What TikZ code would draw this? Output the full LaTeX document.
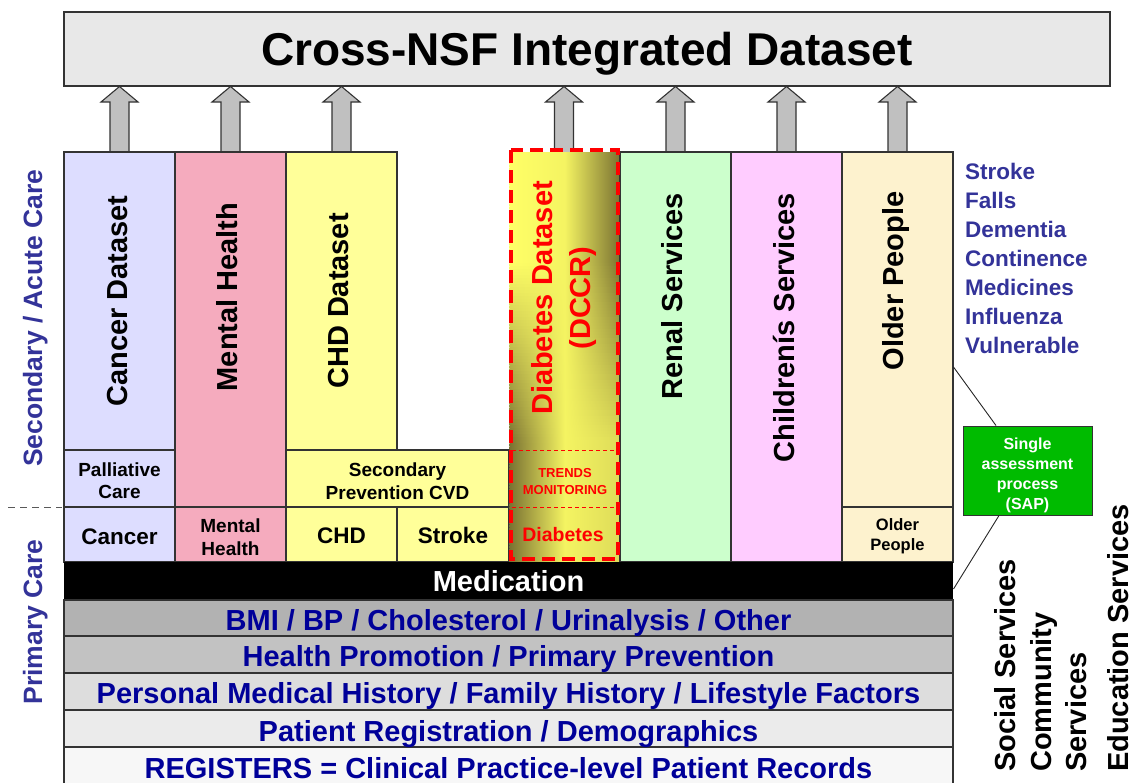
\documentclass[tikz,border=0pt]{standalone}
\usepackage{fontspec}
\setmainfont{Liberation Sans}
\definecolor{topbg}{HTML}{E8E8E8}
\definecolor{bordc}{HTML}{333333}
\definecolor{arrg}{HTML}{C0C0C0}
\definecolor{cancerc}{HTML}{DDDDFF}
\definecolor{mentalc}{HTML}{F5ABBE}
\definecolor{chdc}{HTML}{FFFF99}
\definecolor{renalc}{HTML}{CCFFCC}
\definecolor{childc}{HTML}{FFCCFF}
\definecolor{olderc}{HTML}{FDF2CE}
\definecolor{sapc}{HTML}{00BB00}
\definecolor{rowa}{HTML}{B2B2B2}
\definecolor{rowb}{HTML}{C2C2C2}
\definecolor{rowc}{HTML}{DDDDDD}
\definecolor{rowd}{HTML}{EBEBEB}
\definecolor{rowe}{HTML}{F7F7F7}
\definecolor{navyt}{HTML}{000099}
\definecolor{purpt}{HTML}{333399}
\definecolor{dY}{HTML}{FFFF66}
\definecolor{dO}{HTML}{7A7232}
\definecolor{redc}{HTML}{FF0000}
\begin{document}
\begin{tikzpicture}[x=1pt,y=-1pt,
  bx/.style={draw=bordc,line width=1.1pt},
  tx/.style={inner sep=0pt,font=\bfseries\fontsize{#1}{#1}\selectfont},
  arrs/.style={draw=bordc,fill=arrg,line width=1.1pt,line join=miter},
  conn/.style={draw=black!85,line width=0.9pt}]
\useasboundingbox (0,0) rectangle (1132,782);
% top dataset box
\draw[bx,fill=topbg] (64,12) rectangle (1110,86);
\node[tx=46,anchor=base] (title) at (587,65) {Cross-NSF Integrated Dataset};
% block arrows
\foreach \c in {119.5,230.5,341.5,564,675.5,786.5,897.5}{
  \draw[arrs] ({\c-9.5},154) -- ({\c-9.5},102) -- ({\c-18.5},102) -- (\c,86.5) -- ({\c+18.5},102) -- ({\c+9.5},102) -- ({\c+9.5},154);
}
% columns
\draw[bx,fill=cancerc] (64,152) rectangle (175,450);
\draw[bx,fill=cancerc] (64,450) rectangle (175,507);
\draw[bx,fill=cancerc] (64,507) rectangle (175,562);
\draw[bx,fill=mentalc] (175,152) rectangle (286,507);
\draw[bx,fill=mentalc] (175,507) rectangle (286,562);
\draw[bx,fill=chdc] (286,152) rectangle (397,450);
\draw[bx,fill=chdc] (286,450) rectangle (509,507);
\draw[bx,fill=chdc] (286,507) rectangle (397,562);
\draw[bx,fill=chdc] (397,507) rectangle (509,562);
% diabetes gradient column
\foreach \i in {0,...,136}{
  \pgfmathsetmacro{\yy}{152+3*\i}
  \pgfmathtruncatemacro{\ta}{min(100,max(0,(\yy-260)/1.8))}
  \pgfmathtruncatemacro{\tb}{100-0.75*\ta}
  \fill[left color=dO!\ta!dY, right color=dO!\tb!dY, middle color=dY!92!dO] (509.5,\yy) rectangle (620,\yy+3.8);
}
\draw[bx,fill=renalc] (620,152) rectangle (731,562);
\draw[bx,fill=childc] (731,152) rectangle (842,562);
\draw[bx,fill=olderc] (842,152) rectangle (953,507);
\draw[bx,fill=olderc] (842,507) rectangle (953,562);
% red dashed frame
\draw[redc,line width=1pt,dash pattern=on 4pt off 3pt] (512,450) -- (618,450);
\draw[redc,line width=1pt,dash pattern=on 4pt off 3pt] (512,507) -- (618,507);
\draw[redc,line width=3.6pt,dash pattern=on 13pt off 7pt] (511,150) rectangle (618,559);
% medication and rows
\fill[black] (64,562) rectangle (953,600);
\draw[bx,fill=rowa] (64,600) rectangle (953,636);
\draw[bx,fill=rowb] (64,636) rectangle (953,673);
\draw[bx,fill=rowc] (64,673) rectangle (953,710);
\draw[bx,fill=rowd] (64,710) rectangle (953,747);
\draw[bx,fill=rowe] (64,747) rectangle (953,800);
\node[tx=29,anchor=base,white] (med) at (508.5,591) {Medication};
\node[tx=29,anchor=base,navyt] (bmi) at (508.5,630) {BMI / BP / Cholesterol / Urinalysis / Other};
\node[tx=29,anchor=base,navyt] (hp) at (508.5,666) {Health Promotion / Primary Prevention};
\node[tx=29,anchor=base,navyt] (pmh) at (508.5,703) {Personal Medical History / Family History / Lifestyle Factors};
\node[tx=29,anchor=base,navyt] (preg) at (508.5,741) {Patient Registration / Demographics};
\node[tx=29,anchor=base,navyt] (regs) at (508.5,778) {REGISTERS = Clinical Practice-level Patient Records};
% column titles
\node[tx=29,anchor=base,rotate=90] (tcan) at (127,301) {Cancer Dataset};
\node[tx=29,anchor=base,rotate=90] (tmen) at (237.5,297) {Mental Health};
\node[tx=29,anchor=base,rotate=90] (tchd) at (348,301) {CHD Dataset};
\node[tx=29,anchor=base,rotate=90,redc] (tdia) at (552,298) {Diabetes Dataset};
\node[tx=29,anchor=base,rotate=90,redc] (tdcc) at (590,298) {(DCCR)};
\node[tx=29,anchor=base,rotate=90] (tren) at (682,296) {Renal Services};
\node[tx=29,anchor=base,rotate=90] (tchi) at (794,327.5) {Childrenís Services};
\node[tx=29,anchor=base,rotate=90] (told) at (903.5,281) {Older People};
% small box labels
\node[tx=19,anchor=base] (pal1) at (119.5,476) {Palliative};
\node[tx=19,anchor=base] (pal2) at (119.5,498) {Care};
\node[tx=22.5,anchor=base] (pcan) at (119.5,544) {Cancer};
\node[tx=19,anchor=base] (pmen1) at (230.5,532) {Mental};
\node[tx=19,anchor=base] (pmen2) at (230.5,555) {Health};
\node[tx=19,anchor=base] (sec1) at (397.5,476) {Secondary};
\node[tx=19,anchor=base] (sec2) at (397.5,499) {Prevention CVD};
\node[tx=22.5,anchor=base] (pchd) at (341.5,543) {CHD};
\node[tx=22.5,anchor=base] (pstr) at (453,543) {Stroke};
\node[tx=13,anchor=base,redc] (tr1) at (565,477) {TRENDS};
\node[tx=13,anchor=base,redc] (tr2) at (565,494) {MONITORING};
\node[tx=19.5,anchor=base,redc] (pdia) at (563,541) {Diabetes};
\node[tx=16.5,anchor=base] (pold1) at (897.5,530.5) {Older};
\node[tx=16.5,anchor=base] (pold2) at (897.5,550) {People};
% left side labels
\coordinate (dlA) at (8,507);
\coordinate (dlB) at (62,507);
\draw[black!65,line width=1pt,dash pattern=on 7pt off 5pt] (dlA) -- (dlB);
\node[tx=26.5,anchor=base,rotate=90,purpt] (lsec) at (42,318) {Secondary / Acute Care};
\node[tx=26.5,anchor=base,rotate=90,purpt] (lpri) at (42,622) {Primary Care};
% right list
\node[tx=22.5,anchor=base west,purpt] (r1) at (965,179) {Stroke};
\node[tx=22.5,anchor=base west,purpt] (r2) at (965,208) {Falls};
\node[tx=22.5,anchor=base west,purpt] (r3) at (965,237) {Dementia};
\node[tx=22.5,anchor=base west,purpt] (r4) at (965,266) {Continence};
\node[tx=22.5,anchor=base west,purpt] (r5) at (965,295) {Medicines};
\node[tx=22.5,anchor=base west,purpt] (r6) at (965,324) {Influenza};
\node[tx=22.5,anchor=base west,purpt] (r7) at (965,353) {Vulnerable};
% SAP
\node[draw=bordc,fill=sapc,line width=1pt,minimum width=129pt,minimum height=89pt,inner sep=0pt] (sap) at (1027.5,470.5) {};
\node[tx=16,anchor=base,white] (s1) at (1027.5,449) {Single};
\node[tx=16,anchor=base,white] (s2) at (1027.5,469) {assessment};
\node[tx=16,anchor=base,white] (s3) at (1027.5,489) {process};
\node[tx=16,anchor=base,white] (s4) at (1027.5,509) {(SAP)};
\coordinate (oldE) at (953.5,367);
\coordinate (medE) at (953.5,589);
\draw[conn] (oldE) -- ([xshift=-31.5pt]sap.north);
\draw[conn] ([xshift=-28.5pt]sap.south) -- (medE);
% bottom right services
\node[tx=29,anchor=base west,rotate=90] (soc) at (1015,772) {Social Services};
\node[tx=29,anchor=base west,rotate=90] (com1) at (1051,772) {Community};
\node[tx=29,anchor=base west,rotate=90] (com2) at (1086,772) {Services};
\node[tx=29,anchor=base west,rotate=90] (edu) at (1128,772) {Education Services};
\end{tikzpicture}
\end{document}
